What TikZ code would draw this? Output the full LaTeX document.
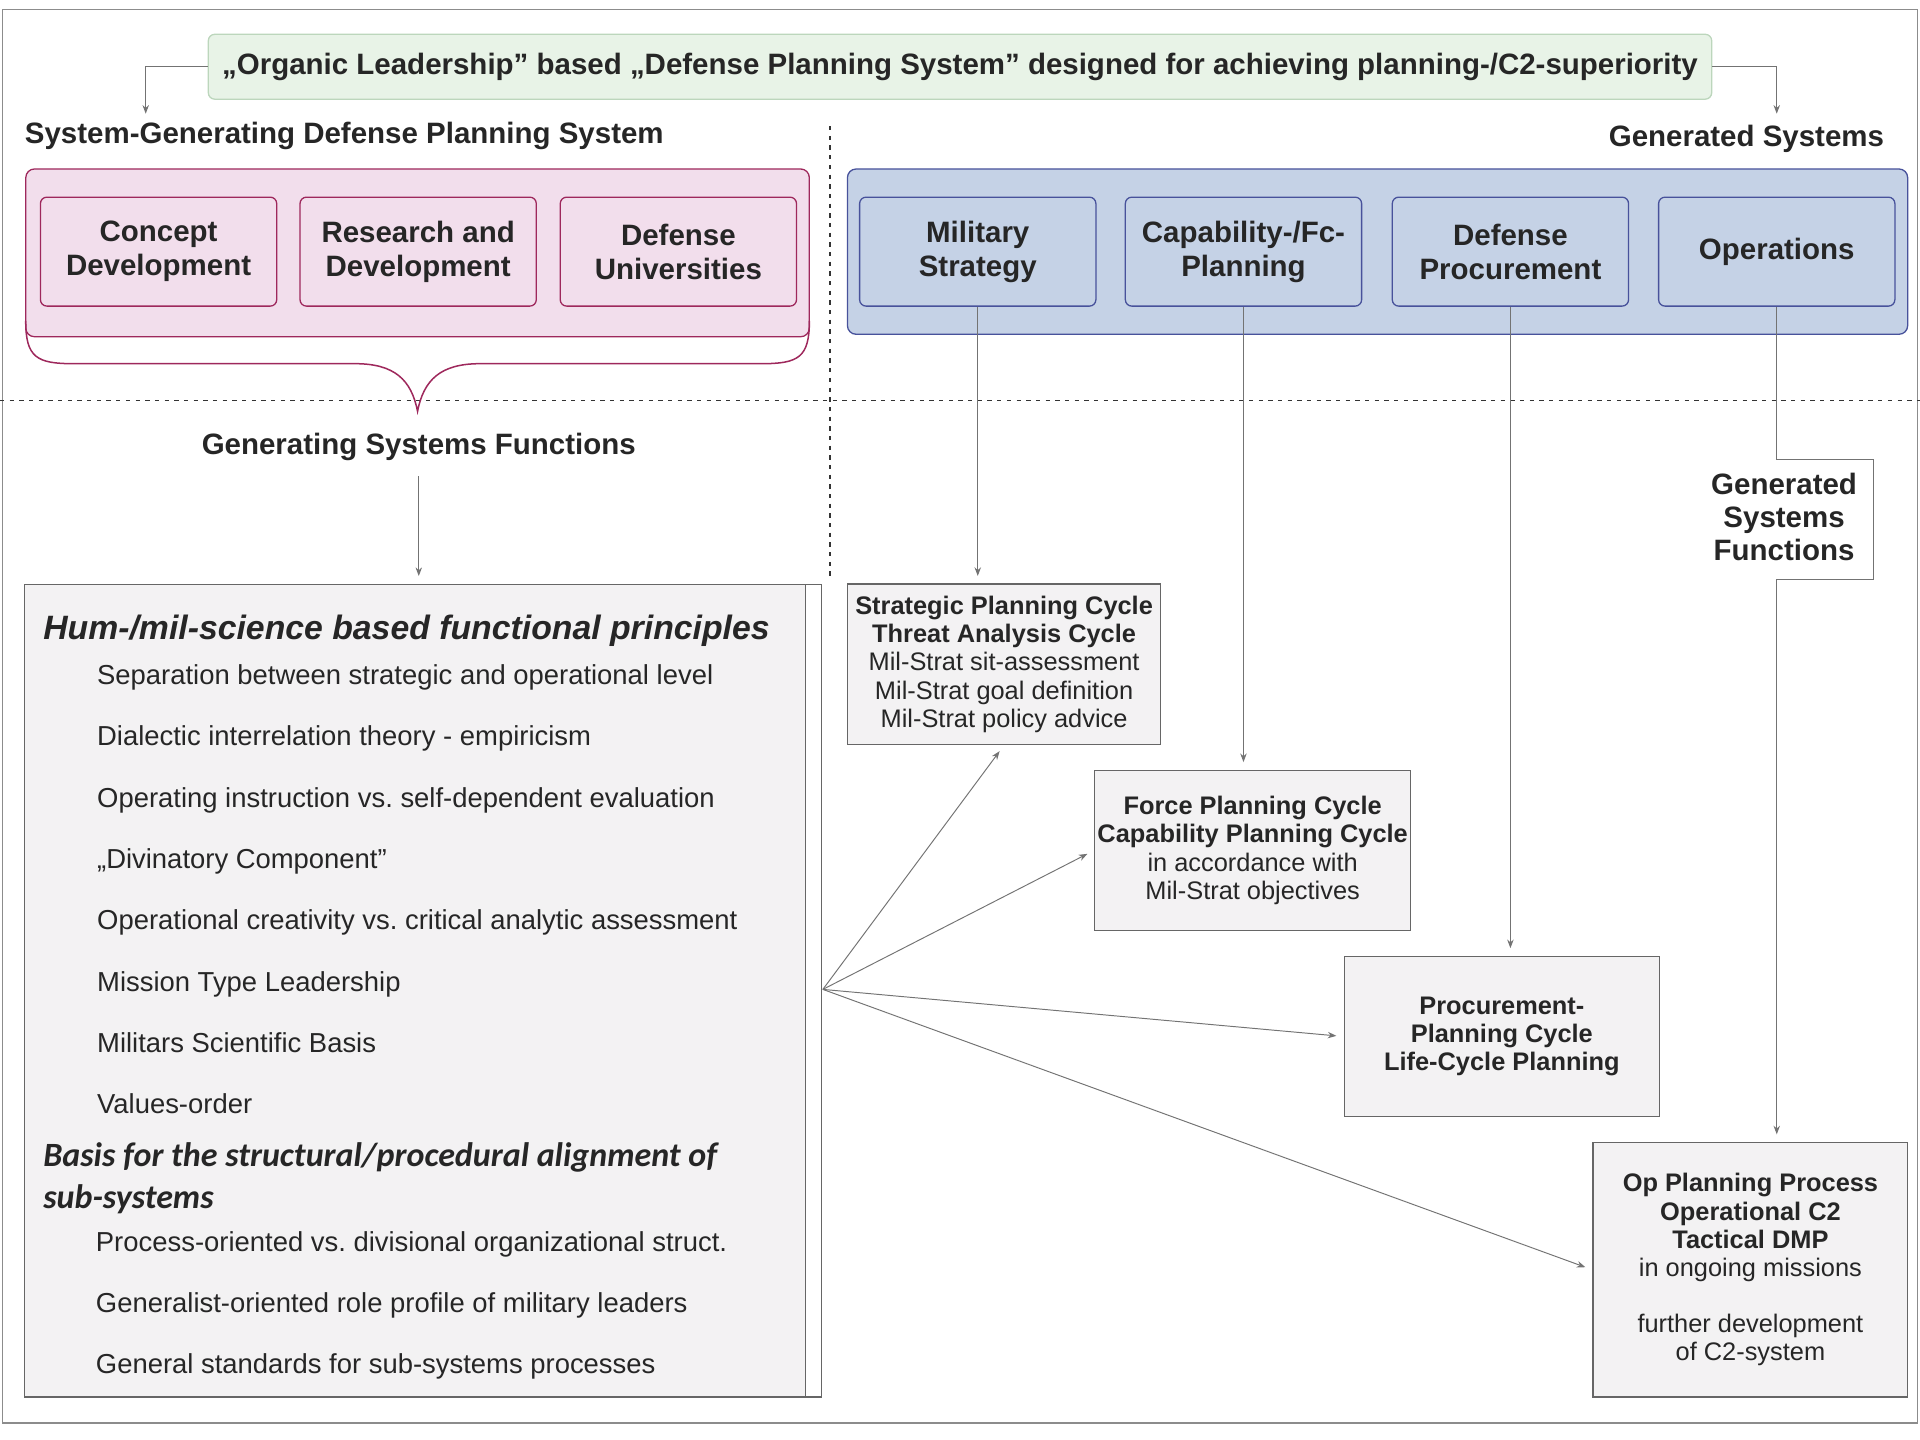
\documentclass[tikz,border=0pt]{standalone}
\usepackage{fontspec}
\setmainfont{Liberation Sans}
\newfontfamily\calibfont{Carlito}
\usetikzlibrary{arrows.meta}
\frenchspacing

\definecolor{pinkfill}{RGB}{242,222,236}
\definecolor{pinkline}{RGB}{158,40,92}
\definecolor{bluefill}{RGB}{197,210,230}
\definecolor{blueline}{RGB}{72,82,155}
\definecolor{greenfill}{RGB}{232,243,231}
\definecolor{greenline}{RGB}{188,214,188}
\definecolor{cyclefill}{RGB}{243,242,243}
\definecolor{txt}{RGB}{38,38,38}

\tikzset{
  head/.style={font=\fontsize{13.7}{15.3}\selectfont\bfseries, text=txt, inner sep=0pt},
  sysbox/.style={rounded corners=3pt, line width=0.6pt, minimum width=3.86cm, minimum height=1.78cm,
    align=center, text=txt, font=\fontsize{13.7}{15.9}\selectfont\bfseries},
  cycle/.style={draw=black!60, fill=cyclefill, line width=0.6pt, align=center, text=txt,
    font=\fontsize{11.8}{13.1}\selectfont, inner sep=0pt, minimum width=5.14cm, minimum height=2.62cm},
  item/.style={anchor=base west, font=\fontsize{12.75}{15}\selectfont, text=txt, inner sep=0pt},
  conn/.style={draw=black!55, line width=0.45pt, -{Stealth[length=4pt,width=3pt]}, shorten >=3.5pt},
  sep/.style={draw=black!80, line width=0.7pt, dash pattern=on 2pt off 2.5pt}
}

\begin{document}
\begin{tikzpicture}[x=0.02cm, y=-0.02cm]
    \useasboundingbox (0,0) rectangle (1568,1176);
    \draw[black!45, line width=0.6pt] (2,8) rectangle (1566,1162);

    % top
    \node[draw=greenline, fill=greenfill, rounded corners=3pt, line width=0.6pt,
      minimum width=24.56cm, minimum height=1.06cm, text=txt,
      font=\fontsize{13.7}{15}\selectfont\bfseries] (title) at (784,54.5)
      {„Organic Leadership” based „Defense Planning System” designed for achieving planning-/C2-superiority};
    \node[head, anchor=base west] (sgdps) at (20,117) {System-Generating Defense Planning System};
    \node[head, anchor=base east] (gensys) at (1539,120) {Generated Systems};
    \coordinate (inL) at (119,99);
    \coordinate (inR) at (1451,99);
    \draw[conn] (title.west) -| (inL);
    \draw[conn] (title.east) -| (inR);

    % separators
    \draw[sep] (0,327) -- (1568,327);
    \draw[sep] (678,103) -- (678,470);

    % generating systems
    \node[draw=pinkline, fill=pinkfill, rounded corners=4pt, line width=0.6pt,
      minimum width=12.8cm, minimum height=2.74cm] (gen) at (341,206.5) {};
    \node[sysbox, draw=pinkline, fill=pinkfill] (cd) at (129.5,205.5) {Concept\\Development};
    \node[sysbox, draw=pinkline, fill=pinkfill] (rd) at (341.5,205.5) {Research and\\Development};
    \node[sysbox, draw=pinkline, fill=pinkfill] (du) at (554,205.5) {Defense\\Universities};
    \draw[pinkline, line width=0.7pt] (21,262) .. controls (21,292) and (30,297) .. (60,297)
      -- (290,297) .. controls (322,297) and (336,310) .. (341,336)
      .. controls (346,310) and (360,297) .. (392,297) -- (622,297)
      .. controls (652,297) and (661,292) .. (661,262);

    % generated systems
    \node[draw=blueline, fill=bluefill, rounded corners=4pt, line width=0.6pt,
      minimum width=17.32cm, minimum height=2.7cm] (gend) at (1125,205.5) {};
    \node[sysbox, draw=blueline, fill=bluefill] (ms) at (798.5,205.5) {Military\\Strategy};
    \node[sysbox, draw=blueline, fill=bluefill] (cp) at (1015.5,205.5) {Capability-/Fc-\\Planning};
    \node[sysbox, draw=blueline, fill=bluefill] (dp) at (1233.5,205.5) {Defense\\Procurement};
    \node[sysbox, draw=blueline, fill=bluefill] (ops) at (1451,205.5) {Operations};

    % functional principles
    \node[head, anchor=base] (gsf) at (342,371) {Generating Systems Functions};
    \fill[cyclefill] (20,477) rectangle (658,1141);
    \node[draw=black!60, line width=0.6pt, minimum width=13.02cm, minimum height=13.28cm,
      inner sep=0pt] (prin) at (345.5,809) {};
    \draw[black!60, line width=0.6pt] (658,477) -- (658,1141);
    \draw[conn, shorten <=7pt] (gsf.south) -- (gsf.south |- prin.north);

    \node[anchor=base west, inner sep=0pt, text=txt,
      font=\fontsize{15.7}{18}\selectfont\bfseries\itshape] (hum) at (35,522)
      {Hum-/mil-science based functional principles};
    \foreach \t [count=\i from 0] in {Separation between strategic and operational level,
        Dialectic interrelation theory - empiricism,
        Operating instruction vs. self-dependent evaluation,
        „Divinatory Component”,
        Operational creativity vs. critical analytic assessment,
        Mission Type Leadership,
        Militars Scientific Basis,
        Values-order}
      \node[item] (fp\i) at (79,{559+50.1*\i}) {\t};
    \node[anchor=base west, inner sep=0pt, text=txt,
      font=\calibfont\fontsize{15.8}{19}\selectfont\bfseries\itshape] (basis) at (35,953)
      {Basis for the structural/procedural alignment of};
    \node[anchor=base west, inner sep=0pt, text=txt,
      font=\calibfont\fontsize{15.8}{19}\selectfont\bfseries\itshape] (basis2) at (35,987)
      {sub-systems};
    \foreach \t [count=\i from 0] in {Process-oriented vs. divisional organizational struct.,
        Generalist-oriented role profile of military leaders,
        General standards for sub-systems processes}
      \node[item] (sp\i) at (78,{1022+50*\i}) {\t};

    % planning cycles
    \node[cycle, minimum width=5.12cm] (strat) at (820,542.5)
      {\textbf{Strategic Planning Cycle}\\\textbf{Threat Analysis Cycle}\\Mil-Strat sit-assessment\\
       Mil-Strat goal definition\\Mil-Strat policy advice};
    \node[cycle, minimum width=5.16cm] (force) at (1023,694.5)
      {\textbf{Force Planning Cycle}\\\textbf{Capability Planning Cycle}\\in accordance with\\Mil-Strat objectives};
    \node[cycle] (proc) at (1226.5,846.5)
      {\textbf{Procurement-}\\\textbf{Planning Cycle}\\\textbf{Life-Cycle Planning}};
    \node[cycle, minimum height=4.16cm] (op) at (1429.5,1037)
      {\textbf{Op Planning Process}\\\textbf{Operational C2}\\\textbf{Tactical DMP}\\in ongoing missions\\[13pt]
       further development\\of C2-system};

    \draw[conn] (ms.south) -- (ms.south |- strat.north);
    \draw[conn] (cp.south) -- (cp.south |- force.north);
    \draw[conn] (dp.south) -- (dp.south |- proc.north);
    \node[head, align=center] (gdsf) at (1457,422) {Generated\\Systems\\Functions};
    \draw[conn] (ops.south) |- (1530,375) |- (1451,473) -- (ops.south |- op.north);

    % fan
    \coordinate (fan) at (672,808);
    \foreach \b in {strat.south, force.west, proc.west, op.west}
      \draw[conn] (fan) -- (\b);
\end{tikzpicture}
\end{document}
